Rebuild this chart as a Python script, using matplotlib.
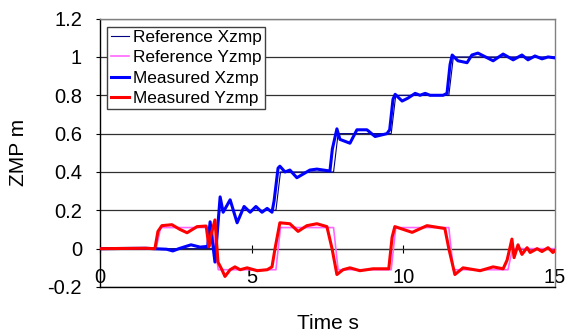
import numpy as np
import matplotlib
matplotlib.use("Agg")
import matplotlib.pyplot as plt

plt.rcParams['font.family'] = ['Liberation Sans', 'DejaVu Sans']

# reference trajectories (step plans)
ref_x_t = [0, 3.8, 3.95, 5.8, 5.95, 7.7, 7.85, 9.6, 9.75, 11.5, 11.65, 15]
ref_x_v = [0, 0, 0.2, 0.2, 0.4, 0.4, 0.6, 0.6, 0.8, 0.8, 1.0, 1.0]

ref_y_t = [0, 1.85, 2.0, 3.7, 3.9, 5.8, 5.95, 7.7, 7.85, 9.6, 9.75, 11.5, 11.65, 13.45, 13.6, 15]
ref_y_v = [0, 0, 0.11, 0.11, -0.11, -0.11, 0.11, 0.11, -0.11, -0.11, 0.11, 0.11, -0.11, -0.11, 0, 0]

# measured zmp
meas_x_t = [0, 1.5, 2.2, 2.4, 2.6, 3.0, 3.3, 3.55, 3.63, 3.72, 3.79, 3.96, 4.06, 4.29,
            4.52, 4.75, 4.95, 5.14, 5.34, 5.51, 5.67, 5.74, 5.87, 5.93, 6.10, 6.26,
            6.49, 6.92, 7.15, 7.58, 7.66, 7.81, 7.91, 8.24, 8.47, 8.80, 9.07, 9.46,
            9.55, 9.66, 9.73, 9.96, 10.15, 10.39, 10.55, 10.72, 10.88, 11.31, 11.44,
            11.54, 11.61, 11.80, 12.10, 12.26, 12.46, 12.96, 13.29, 13.62, 13.91,
            14.11, 14.34, 14.57, 14.77, 15.0]
meas_x_v = [0, 0.002, -0.003, -0.012, 0.0, 0.02, 0.008, 0.012, 0.14, 0.02, -0.07, 0.27,
            0.19, 0.255, 0.135, 0.22, 0.19, 0.22, 0.19, 0.21, 0.19, 0.25, 0.42, 0.43,
            0.40, 0.41, 0.37, 0.41, 0.415, 0.405, 0.52, 0.625, 0.57, 0.55, 0.62, 0.62,
            0.585, 0.60, 0.62, 0.78, 0.805, 0.77, 0.785, 0.81, 0.80, 0.81, 0.80, 0.80,
            0.81, 0.96, 1.01, 0.98, 0.97, 1.01, 1.02, 0.98, 1.015, 0.985, 1.01, 0.985,
            1.005, 0.99, 1.0, 0.995]

meas_y_t = [0, 1.5, 1.81, 1.91, 2.04, 2.37, 2.64, 2.87, 3.20, 3.50, 3.59, 3.64, 3.79,
            3.89, 4.02, 4.12, 4.29, 4.45, 4.62, 4.85, 5.18, 5.51, 5.67, 5.77, 5.93,
            6.26, 6.53, 6.82, 7.15, 7.48, 7.65, 7.81, 8.01, 8.24, 8.57, 9.0, 9.52,
            9.63, 9.72, 10.29, 10.78, 11.37, 11.50, 11.70, 11.97, 12.53, 12.96, 13.29,
            13.42, 13.58, 13.65, 13.78, 13.91, 14.08, 14.18, 14.41, 14.57, 14.77,
            14.93, 15.0]
meas_y_v = [0, 0.002, 0.0, 0.09, 0.12, 0.125, 0.1, 0.083, 0.115, 0.118, 0.01, 0.06, 0.15,
            -0.07, -0.11, -0.145, -0.11, -0.095, -0.11, -0.10, -0.115, -0.11, -0.095,
            0.0, 0.135, 0.13, 0.09, 0.12, 0.13, 0.115, 0.0, -0.135, -0.11, -0.10,
            -0.115, -0.105, -0.105, 0.06, 0.115, 0.085, 0.12, 0.105, 0.0, -0.135,
            -0.10, -0.115, -0.095, -0.105, -0.06, 0.05, -0.047, 0.02, -0.03, 0.005,
            -0.02, 0.0, -0.015, 0.005, -0.02, -0.01]

yticks = [-0.2, 0, 0.2, 0.4, 0.6, 0.8, 1, 1.2]
ytick_labels = ['-0.2', '0', '0.2', '0.4', '0.6', '0.8', '1', '1.2']
xticks = [0, 5, 10, 15]

fig = plt.figure(figsize=(5.74, 3.35), dpi=100)
ax = fig.add_axes([100 / 574, 48 / 335, 455 / 574, 268.4 / 335])

ax.plot(ref_x_t, ref_x_v, color='#000080', lw=0.8, label='Reference Xzmp', zorder=2)
ax.plot(ref_y_t, ref_y_v, color='#FF66FF', lw=1.2, label='Reference Yzmp', zorder=2)
ax.plot(meas_x_t, meas_x_v, color='#0000FF', lw=2.2, label='Measured Xzmp', zorder=3)
ax.plot(meas_y_t, meas_y_v, color='#FF0000', lw=2.2, label='Measured Yzmp', zorder=3)

ax.set_xlim(0, 15)
ax.set_ylim(-0.2, 1.2)
ax.set_yticks(yticks)
ax.set_yticklabels(ytick_labels)
ax.set_xticks(xticks)
ax.set_xticklabels([str(t) for t in xticks])

ax.grid(axis='y', color='#303030', lw=0.9)
ax.set_axisbelow(True)

ax.tick_params(axis='y', labelsize=14.5, length=3, width=0.8, pad=10)
ax.tick_params(axis='x', labelsize=14.5, length=0, pad=-14)

for s in ['top', 'right']:
    ax.spines[s].set_color('#808080')
    ax.spines[s].set_linewidth(1.0)
for s in ['left', 'bottom']:
    ax.spines[s].set_color('black')
    ax.spines[s].set_linewidth(1.0)

# small cross ticks where the x axis crosses y = 0
sec = ax.secondary_xaxis(0.2 / 1.4)
sec.set_xticks(xticks)
sec.tick_params(direction='inout', length=6, width=0.8, labelbottom=False)
sec.spines['bottom'].set_color('#505050')
sec.spines['bottom'].set_linewidth(0.9)

ax.set_ylabel('ZMP m', fontsize=15)
ax.yaxis.set_label_coords(-0.158, 0.5)
ax.set_xlabel('Time s', fontsize=15)
ax.xaxis.set_label_coords(0.5, -0.1)

leg = ax.legend(loc='upper left', bbox_to_anchor=(0.016, 0.97), fontsize=12.4,
                frameon=True, fancybox=False, framealpha=1, edgecolor='#404040',
                handlelength=1.05, handletextpad=0.25, labelspacing=0.3,
                borderpad=0.2, borderaxespad=0)
leg.get_frame().set_linewidth(1.0)

fig.savefig('out.png', dpi=100)
